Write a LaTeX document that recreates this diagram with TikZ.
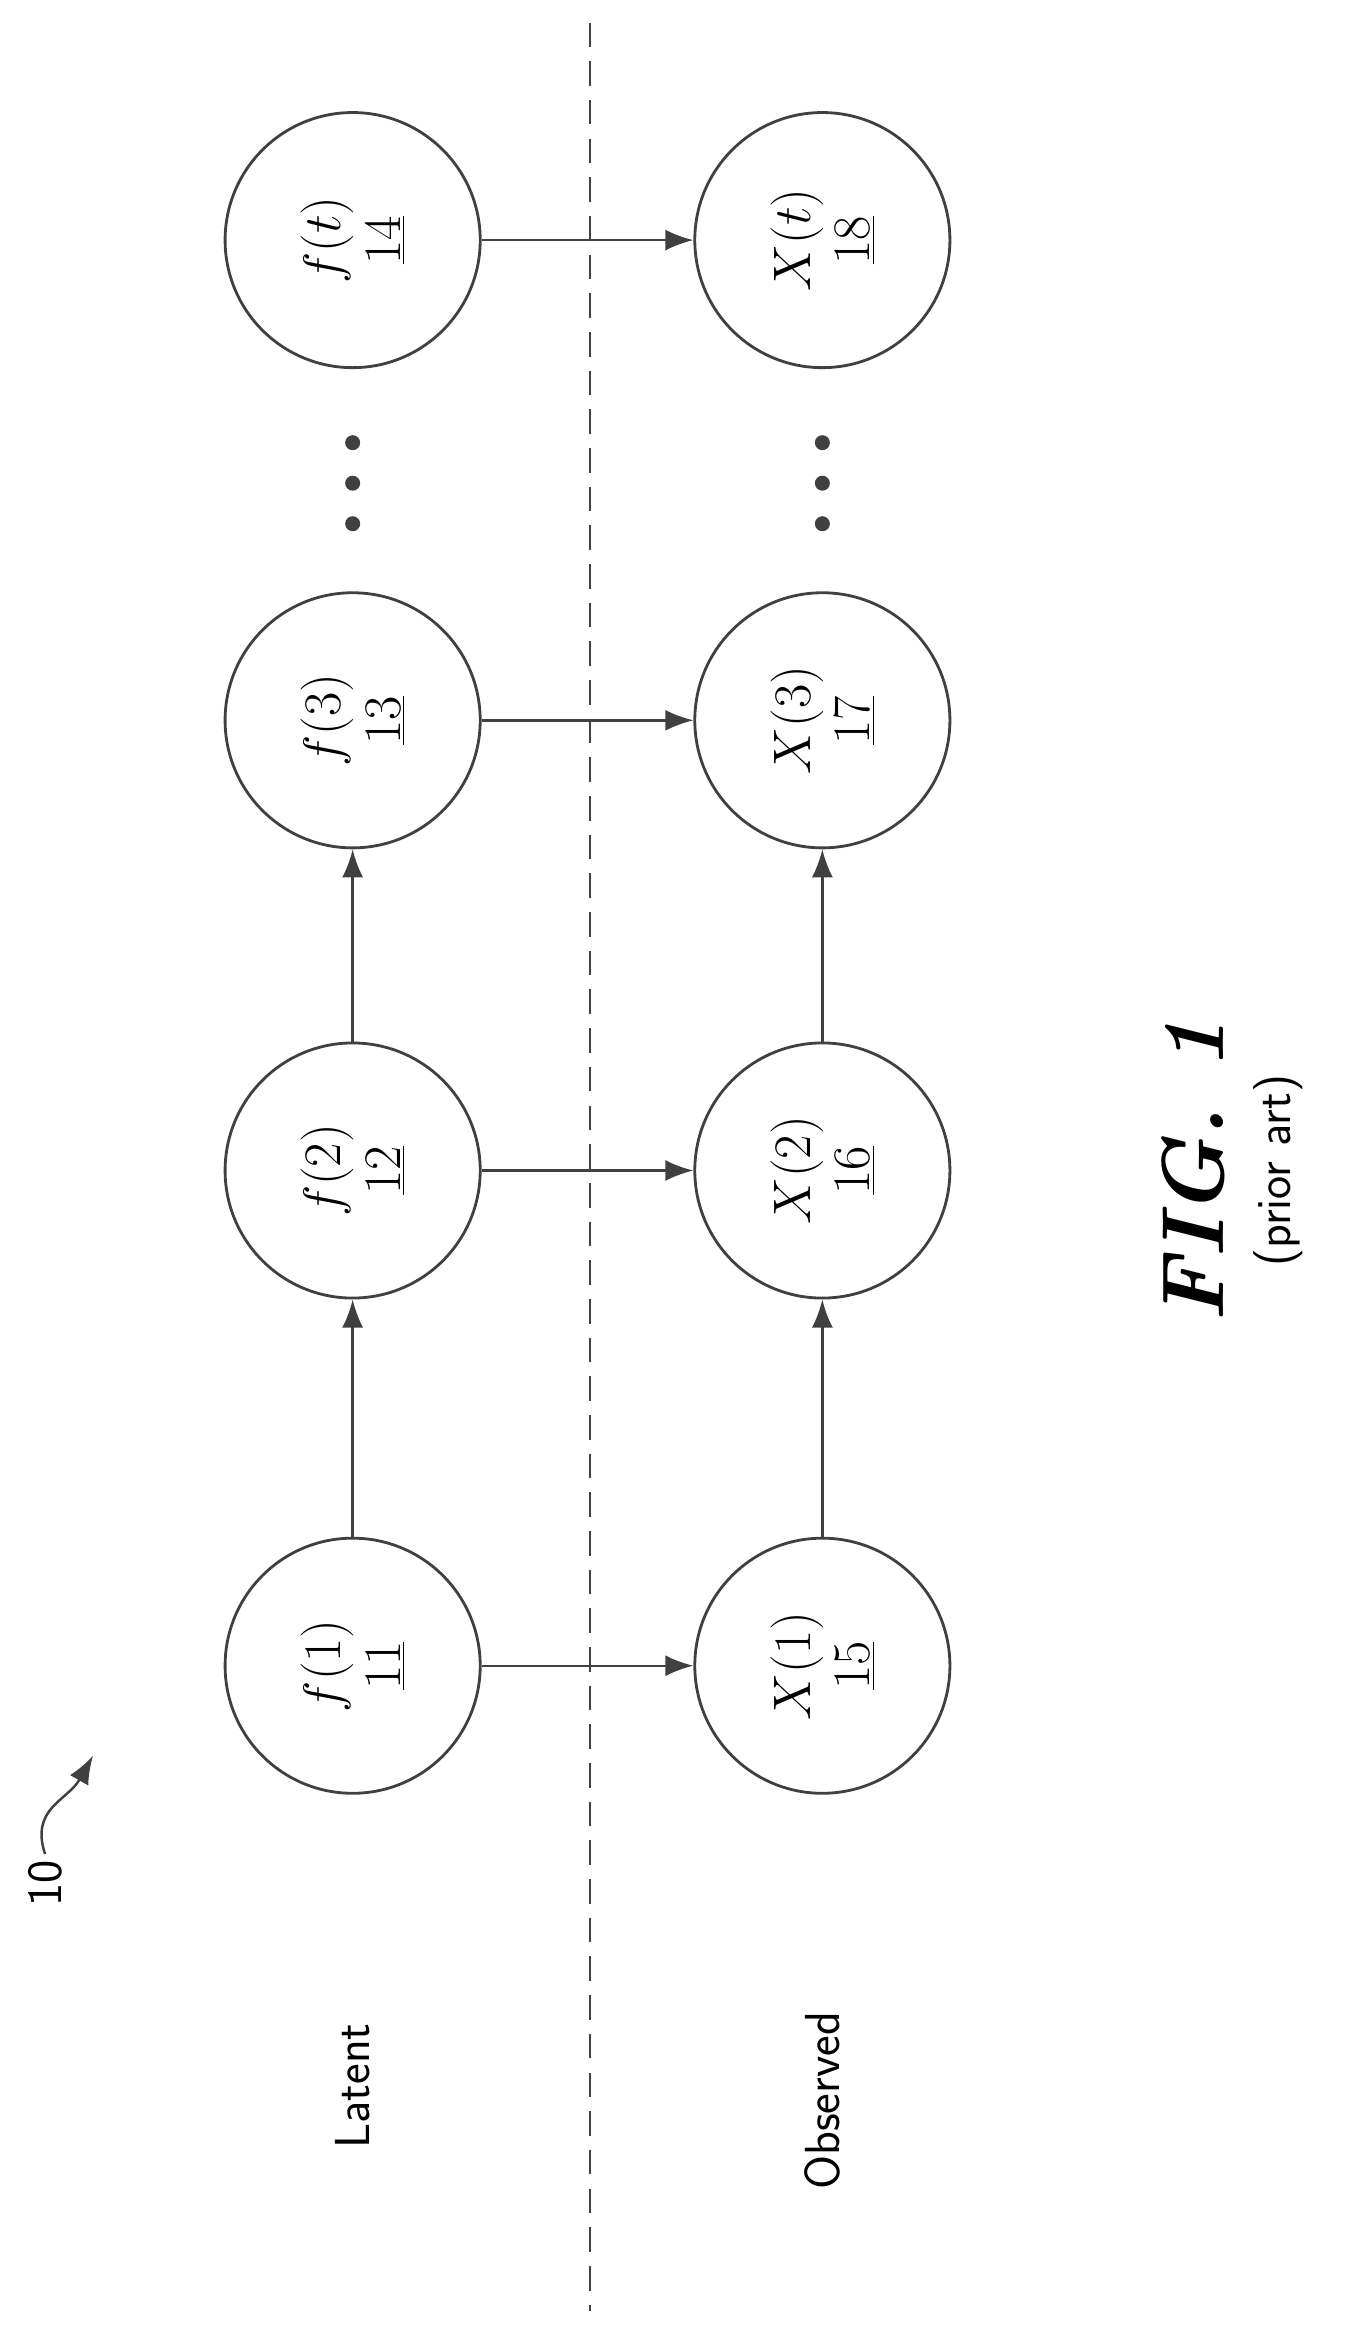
\RequirePackage{fix-cm}
\documentclass[tikz,border=0pt]{standalone}
\usepackage{tikz}
\usetikzlibrary{positioning,calc,arrows.meta}
\begin{document}
\begin{tikzpicture}[x=0.03cm,y=-0.03cm,
    state/.style={draw=black!75, line width=1.6pt, circle, minimum size=5.1cm, inner sep=0pt,
      rotate=90, align=center, font=\fontsize{30}{34}\selectfont},
    link/.style={draw=black!75, line width=1.4pt, -{Latex[length=16pt,width=12pt]}},
    lbl/.style={rotate=90, font=\sffamily\fontsize{28}{32}\selectfont}]
    \useasboundingbox (0,0) rectangle (909,1550);
  
    % dashed separator
    \coordinate (D1) at (393,15);
    \coordinate (D2) at (393,1540);
    \draw[black!75, line width=1.4pt, dash pattern=on 14pt off 8pt] (D1) -- (D2);
  
    % latent row
    \node[state] (f1) at (235,1110) {$f(1)$\\\underline{11}};
    \node[state] (f2) at (235,780) {$f(2)$\\\underline{12}};
    \node[state] (f3) at (235,480) {$f(3)$\\\underline{13}};
    \node[state] (ft) at (235,160) {$f(t)$\\\underline{14}};
  
    % observed row
    \node[state] (x1) at (548,1110) {$X(1)$\\\underline{15}};
    \node[state] (x2) at (548,780) {$X(2)$\\\underline{16}};
    \node[state] (x3) at (548,480) {$X(3)$\\\underline{17}};
    \node[state] (xt) at (548,160) {$X(t)$\\\underline{18}};
  
    % connectors
    \foreach \a/\b in {f1/x1,f2/x2,f3/x3,ft/xt,f1/f2,f2/f3,x1/x2,x2/x3}
      \draw[link] (\a) -- (\b);
  
    % dots
    \foreach \yy in {295,322,349} {
      \fill[black!75] (235,\yy) circle (5);
      \fill[black!75] (548,\yy) circle (5);
    }
  
    % side labels
    \node[lbl] (lat) at (235,1390) {Latent};
    \node[lbl] (obs) at (548,1400) {Observed};
  
    % reference numeral
    \node[lbl] (ten) at (30,1255) {10};
    \coordinate (tenend) at (62,1170);
    \draw[black!75, line width=1.4pt, -{Latex[length=16pt,width=12pt]}] (ten.east) .. controls (20,1205) and (45,1200) .. (tenend);
  
    % caption
    \node[rotate=90, font=\bfseries\itshape\fontsize{50}{56}\selectfont] (fig) at (795,780) {FIG. 1};
    \node[lbl] (prior) at (852,780) {(prior art)};
\end{tikzpicture}
\end{document}
